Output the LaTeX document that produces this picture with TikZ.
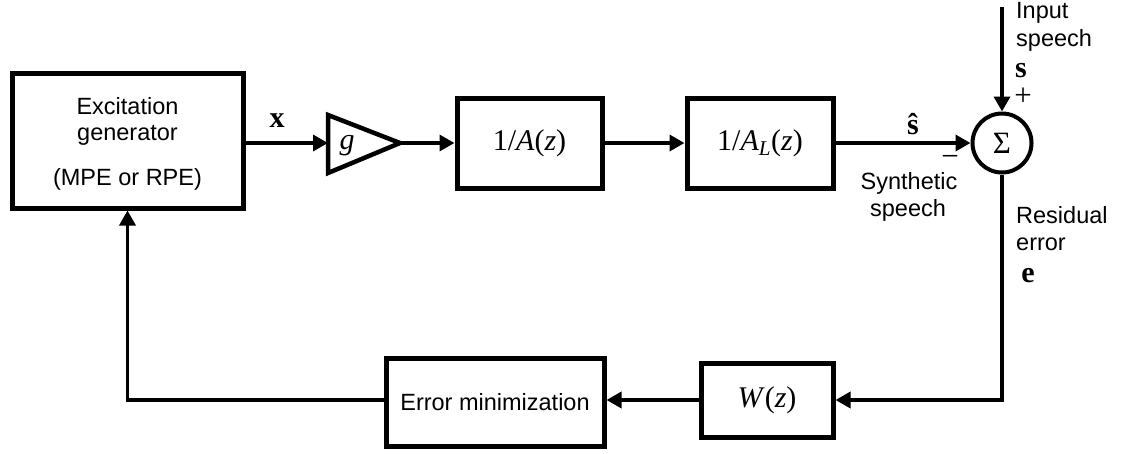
\documentclass[tikz,border=0pt]{standalone}
\usepackage{fontspec}
\setmainfont{Liberation Sans}
\newfontfamily\tms{Liberation Serif}
\usetikzlibrary{arrows.meta}
\begin{document}
\begin{tikzpicture}[x=1pt,y=-1pt,
  blk/.style={draw, line width=5pt, inner sep=0pt},
  conn/.style={line width=3.5pt},
  arr/.style={conn, -{Triangle[length=15pt,width=16pt]}},
  lbl/.style={font=\fontsize{23.5}{27}\selectfont, inner sep=0pt},
  mth/.style={font=\tms\fontsize{30}{34}\selectfont, inner sep=0pt},
  sml/.style={font=\tms\fontsize{31}{34}\selectfont, inner sep=0pt},
]
\useasboundingbox (0,0) rectangle (1137,453);

% blocks
\node[blk, minimum width=231pt, minimum height=135pt] (exc) at (127.5,140.5) {};
\node[lbl, anchor=base] (t1) at (127.5,114) {Excitation};
\node[lbl, anchor=base] (t2) at (127.5,140) {generator};
\node[lbl, anchor=base] (t3) at (127.5,185) {(MPE or RPE)};

\draw[line width=4.5pt] (328,115) -- (400,143) -- (328,173) -- cycle;
\coordinate (gin) at (328,143);
\coordinate (gout) at (400,143);
\node[mth] (g) at (347,146) {\textit{g}};

\node[blk, mth, minimum width=145pt, minimum height=90pt] (A) at (529.5,143) {1/\textit{A}(\textit{z})};
\node[blk, mth, minimum width=146pt, minimum height=90pt] (AL) at (760,143) {1/\textit{A}\textsubscript{\textit{L}}(\textit{z})};
\node[draw, circle, line width=4pt, minimum size=59pt, inner sep=0pt, sml] (sum) at (1002,143) {Σ};

\node[blk, lbl, minimum width=218pt, minimum height=88pt] (emin) at (495,402) {Error minimization};
\node[blk, mth, minimum width=132pt, minimum height=74pt] (W) at (767,400) {\textit{W}(\textit{z})};

% connectors
\coordinate (src) at (1002,7);
\draw[arr] (exc.east |- gin) -- (gin);
\draw[arr] (gout) -- (A.west);
\draw[arr] (A.east) -- (AL.west);
\draw[arr] (AL.east) -- (sum.west);
\draw[arr] (src) -- (sum.north);
\draw[arr] (sum.south) |- (W.east);
\draw[arr] (W.west) -- (W.west -| emin.east);
\draw[arr] (W.west -| emin.west) -| (exc.south);

% labels
\node[mth] (lx) at (277,121) {\textbf{x}};
\node[mth] (lsh) at (913,124) {\textbf{\^{s}}};
\node[sml] (lminus) at (950,161) {−};
\node[lbl, anchor=base] (syn1) at (909,189) {Synthetic};
\node[lbl, anchor=base] (syn2) at (908,216) {speech};
\node[lbl, anchor=base west] (in1) at (1016,18) {Input};
\node[lbl, anchor=base west] (in2) at (1016,46) {speech};
\node[mth] (ls) at (1021,71) {\textbf{s}};
\node[sml] (lplus) at (1023,97) {+};
\node[lbl, anchor=base west] (res1) at (1016,223) {Residual};
\node[lbl, anchor=base west] (res2) at (1016,250) {error};
\node[mth] (le) at (1028,276) {\textbf{e}};
\end{tikzpicture}
\end{document}
